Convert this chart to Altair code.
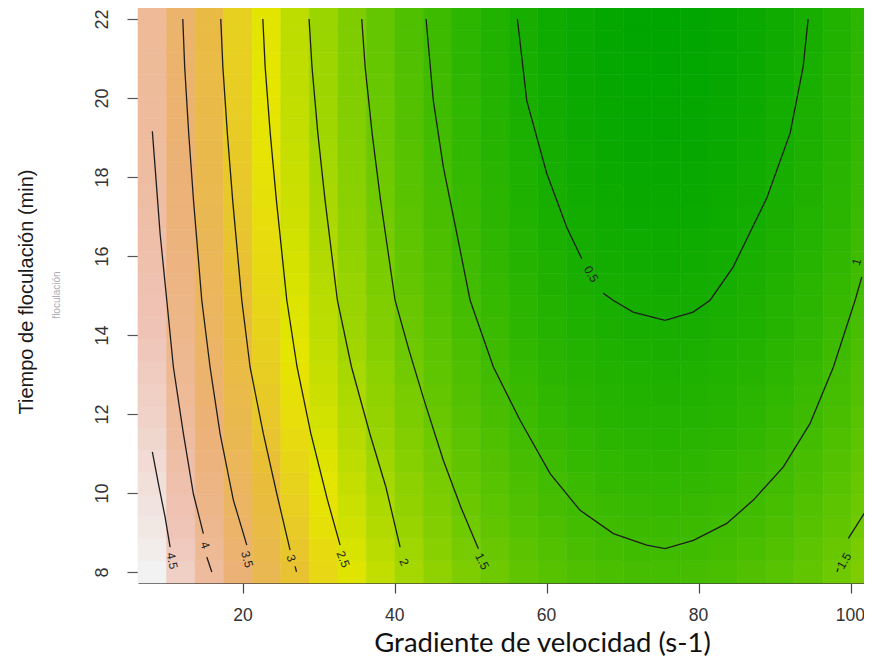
import altair as alt
import pandas as pd

# ---------------- heat-map grid ----------------
x_centers = [8.0, 11.76, 15.52, 19.28, 23.04, 26.8, 30.56, 34.32, 38.08, 41.84,
             45.6, 49.36, 53.12, 56.88, 60.64, 64.4, 68.16, 71.92, 75.68, 79.44,
             83.2, 86.96, 90.72, 94.48, 98.24, 102.0]
y_centers = [8.0, 8.56, 9.12, 9.68, 10.24, 10.8, 11.36, 11.92, 12.48, 13.04,
             13.6, 14.16, 14.72, 15.28, 15.84, 16.4, 16.96, 17.52, 18.08, 18.64,
             19.2, 19.76, 20.32, 20.88, 21.44, 22.0]
# response along the bottom row (y = 8), one value per column
z_bottom_row = [4.72, 4.32, 3.95, 3.60, 3.27, 2.97, 2.69, 2.43, 2.19, 1.97,
                1.78, 1.61, 1.47, 1.34, 1.24, 1.16, 1.11, 1.07, 1.06, 1.07,
                1.11, 1.17, 1.25, 1.35, 1.47, 1.62]
# how much lower the response is in each row than in the bottom row
row_drop = [0.00, 0.06, 0.12, 0.17, 0.22, 0.27, 0.32, 0.37, 0.41, 0.45,
            0.49, 0.53, 0.56, 0.59, 0.62, 0.65, 0.68, 0.70, 0.72, 0.74,
            0.76, 0.77, 0.79, 0.80, 0.81, 0.81]
half_w = 1.88
half_h = 0.28

# ---------------- contour lines ----------------
c45_x = [8.01, 8.80, 9.69, 10.35]
c45_y = [11.04, 10.24, 9.39, 8.63]
c4_x = [8.01, 8.37, 9.03, 9.91, 10.78, 12.10, 13.41, 14.73]
c4_y = [19.16, 18.25, 16.57, 14.88, 13.19, 11.50, 9.98, 8.97]
c4t_x = [15.18, 15.84]
c4t_y = [8.38, 8.00]
c35_x = [12.02, 12.27, 12.80, 13.43, 14.52, 15.61, 16.93, 18.68, 20.45]
c35_y = [22.0, 20.78, 19.10, 17.41, 14.88, 13.19, 11.50, 9.82, 8.68]
c3_x = [17.02, 17.30, 17.89, 18.59, 19.79, 20.88, 22.63, 24.40, 26.15]
c3_y = [22.0, 20.78, 19.10, 17.41, 14.88, 13.19, 11.50, 9.98, 8.55]
c3t_x = [26.81, 27.0]
c3t_y = [8.14, 8.00]
c25_x = [22.56, 22.87, 23.54, 24.35, 25.72, 27.07, 28.89, 31.08, 32.74]
c25_y = [22.0, 20.78, 19.10, 17.41, 14.88, 13.19, 11.50, 9.82, 8.68]
c2_x = [28.65, 29.04, 29.81, 30.76, 32.38, 34.24, 36.66, 38.77, 40.64]
c2_y = [22.0, 20.78, 19.10, 17.41, 14.88, 13.19, 11.50, 10.15, 8.63]
c15_x = [35.59, 36.04, 36.96, 38.07, 39.98, 41.82, 43.80, 46.33, 48.62, 50.95]
c15_y = [22.0, 20.78, 19.10, 17.41, 14.88, 13.61, 12.35, 10.83, 9.65, 8.59]
c1_x = [44.06, 45.02, 46.34, 48.11, 49.86, 52.93, 56.44, 60.40, 64.35, 68.73,
        73.13, 75.54, 79.27, 83.67, 87.17, 91.12, 94.64, 97.71, 100.57, 101.45]
c1_y = [22.0, 19.93, 18.25, 16.57, 14.88, 13.19, 11.84, 10.49, 9.56, 8.97,
        8.68, 8.59, 8.80, 9.23, 9.82, 10.66, 11.76, 13.19, 14.88, 15.47]
c05a_x = [56.09, 57.33, 59.96, 62.59, 64.57]
c05a_y = [22.0, 19.93, 18.09, 16.73, 15.93]
c05b_x = [67.38, 68.69, 71.33, 75.54, 79.23, 81.47, 84.50, 88.94, 92.01, 93.72, 94.38]
c05b_y = [15.06, 14.88, 14.58, 14.37, 14.58, 14.88, 15.72, 17.47, 19.11, 20.78, 22.0]
c15r_x = [102.0, 99.68]
c15r_y = [9.55, 8.85]
c15rt_x = [98.33, 98.2]
c15rt_y = [8.09, 8.00]

# ---------------- contour labels ----------------
label_text = ["4.5", "4", "3.5", "3", "2.5", "2", "1.5", "0.5", "1", "1.5"]
label_x = [10.61, 14.96, 20.49, 26.28, 33.13, 41.17, 51.44, 65.80, 100.75, 99.12]
label_y = [8.28, 8.68, 8.32, 8.35, 8.32, 8.25, 8.27, 15.54, 15.85, 8.28]
label_angle = [78, 72, 75, 72, 68, 66, 62, 60, 286, 300]

x_ticks = [20, 40, 60, 80, 100]
y_ticks = [8, 10, 12, 14, 16, 18, 20, 22]

# ---------------- build tables ----------------
cells = []
for j, yc in enumerate(y_centers):
    for i, xc in enumerate(x_centers):
        cells.append({"x0": xc - half_w, "x1": xc + half_w,
                      "y0": yc - half_h, "y1": yc + half_h,
                      "z": round(z_bottom_row[i] - row_drop[j], 3)})
heat = pd.DataFrame(cells)

segments = [
    ("c45", c45_x, c45_y), ("c4", c4_x, c4_y), ("c4t", c4t_x, c4t_y),
    ("c35", c35_x, c35_y), ("c3", c3_x, c3_y), ("c3t", c3t_x, c3t_y),
    ("c25", c25_x, c25_y), ("c2", c2_x, c2_y), ("c15", c15_x, c15_y),
    ("c1", c1_x, c1_y), ("c05a", c05a_x, c05a_y), ("c05b", c05b_x, c05b_y),
    ("c15r", c15r_x, c15r_y), ("c15rt", c15rt_x, c15rt_y),
]
rows = []
for sid, xs, ys in segments:
    for k, (a, b) in enumerate(zip(xs, ys)):
        rows.append({"seg": sid, "k": k, "x": a, "y": b})
lines = pd.DataFrame(rows)

labels = pd.DataFrame({"t": label_text, "x": label_x, "y": label_y, "ang": label_angle})

zmin, zmax = float(heat["z"].min()), float(heat["z"].max())
terrain = ["#00A600", "#2DB600", "#63C600", "#A0D600", "#E6E600",
           "#E9BD3A", "#ECB176", "#EFC2B3", "#F2F2F2"]
stops = [zmin + (zmax - zmin) * t / 8 for t in range(9)]
cscale = alt.Scale(domain=stops, range=terrain, interpolate="rgb")

xscale = alt.Scale(domain=[6.12, 101.74], nice=False, zero=False)
yscale = alt.Scale(domain=[7.72, 22.28], nice=False, zero=False)

x_axis = alt.Axis(values=x_ticks, title="Gradiente de velocidad (s-1)", grid=False,
                  domain=True, domainColor="#444444", domainWidth=1.2,
                  tickColor="#444444", tickSize=10, tickWidth=1.2,
                  labelFont="Liberation Sans", labelFontSize=17.5, labelColor="#333333",
                  labelPadding=13, labelOffset=-1, labelFlush=False,
                  titleFont="Lato", titleFontSize=27.5, titleFontWeight="normal",
                  titleColor="#111111", titleX=404, titleY=68,
                  titleAlign="center", titleBaseline="alphabetic")
y_axis = alt.Axis(values=y_ticks, title="Tiempo de floculación (min)", grid=False,
                  domain=False, tickColor="#555555", tickSize=11, tickWidth=1.2,
                  labelAngle=270, labelAlign="center", labelBaseline="alphabetic",
                  labelPadding=20, labelFont="Liberation Sans", labelFontSize=18,
                  labelColor="#333333", labelFlush=False,
                  titleFont="Liberation Sans", titleFontSize=20, titleFontWeight="normal",
                  titleColor="#1a1a1a", titleAngle=270, titleX=-106, titleY=283.5,
                  titleAlign="center", titleBaseline="alphabetic")

heat_layer = alt.Chart(heat).mark_rect(strokeWidth=0.6).encode(
    x=alt.X("x0:Q", scale=xscale, axis=x_axis),
    x2="x1:Q",
    y=alt.Y("y0:Q", scale=yscale, axis=y_axis),
    y2="y1:Q",
    color=alt.Color("z:Q", scale=cscale, legend=None),
    stroke=alt.Stroke("z:Q", scale=cscale, legend=None),
)

line_layer = alt.Chart(lines).mark_line(color="#1e1e1e", strokeWidth=1.3, clip=True).encode(
    x=alt.X("x:Q", scale=xscale),
    y=alt.Y("y:Q", scale=yscale),
    detail="seg:N",
    order=alt.Order("k:Q"),
)

label_layer = alt.Chart(labels).mark_text(
    font="Liberation Sans", fontSize=12, color="#1e1e1e", align="center", baseline="middle"
).encode(
    x=alt.X("x:Q", scale=xscale),
    y=alt.Y("y:Q", scale=yscale),
    text="t:N",
    angle=alt.Angle("ang:Q", scale=None),
)

smudge = alt.Chart(pd.DataFrame({"t": ["floculación"]})).mark_text(
    font="Liberation Sans", fontSize=10, color="#555566", opacity=0.5,
    angle=270, align="center", baseline="middle"
).encode(x=alt.value(-81), y=alt.value(287), text="t:N")

chart = alt.layer(heat_layer, line_layer, label_layer, smudge).properties(
    width=726, height=575,
    padding={"left": 130, "top": 0, "right": 0, "bottom": 75},
    autosize=alt.AutoSizeParams(type="none"),
).configure_view(stroke=None)

chart.save("out.html", embed_options={"renderer": "svg", "actions": False})
